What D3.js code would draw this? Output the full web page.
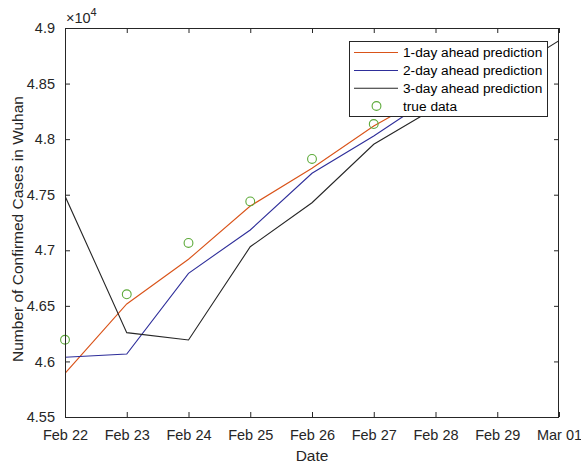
<!DOCTYPE html>
<html>
<head>
<meta charset="utf-8">
<script src="https://cdn.jsdelivr.net/npm/d3@7"></script>
<style>
  html, body { margin: 0; padding: 0; background: #fff; }
  svg { display: block; font-family: "Liberation Sans", Arial, sans-serif; }
</style>
</head>
<body>
<svg id="chart" width="581" height="464"></svg>
<script>
// ---- data (values in cases) ----
const dateLabels = ["Feb 22","Feb 23","Feb 24","Feb 25","Feb 26","Feb 27","Feb 28","Feb 29","Mar 01"];
const yTicks = [4.55, 4.6, 4.65, 4.7, 4.75, 4.8, 4.85, 4.9];
const pred1 = [45893, 46517, 46919, 47398, 47738, 48118, 48430, 48800];
const pred2 = [46037, 46067, 46793, 47183, 47693, 48028, 48397, 48750];
const pred3 = [47488, 46259, 46193, 47032, 47428, 47954, 48283, 48540, 48886];
const trueData = [46195, 46604, 47066, 47440, 47822, 48136, 48557];
const seriesNames = ["1-day ahead prediction", "2-day ahead prediction", "3-day ahead prediction", "true data"];

// ---- layout ----
const svg = d3.select("#chart");
const L = 65, R = 559, T = 28, B = 417;
const axisColor = "#262626";
const colors = ["#D95319", "#2E2E9A", "#262626", "#5DAA3A"];

const x = d3.scaleLinear().domain([0, dateLabels.length - 1]).range([L, R]);
const y = d3.scaleLinear().domain([45500, 49000]).range([B, T]);

svg.append("defs").append("clipPath").attr("id", "clip")
  .append("rect").attr("x", L).attr("y", T).attr("width", R - L).attr("height", B - T);

// lines
const line = d3.line().x((d, i) => x(i)).y(d => y(d));
const g = svg.append("g").attr("clip-path", "url(#clip)");
[pred1, pred2, pred3].forEach((s, k) => {
  g.append("path").datum(s).attr("d", line)
    .attr("fill", "none").attr("stroke", colors[k]).attr("stroke-width", 1.1);
});
svg.append("g").selectAll("circle.td").data(trueData).enter().append("circle")
  .attr("class", "td")
  .attr("cx", (d, i) => x(i)).attr("cy", d => y(d)).attr("r", 4.4)
  .attr("fill", "none").attr("stroke", colors[3]).attr("stroke-width", 1.1);

// axes (MATLAB style: ticks inward, box)
const fs = "14.5px";
const xAxisB = d3.axisBottom(x).tickValues(d3.range(dateLabels.length)).tickSize(-5).tickFormat(i => dateLabels[i]).tickPadding(13);
const xAxisT = d3.axisTop(x).tickValues(d3.range(dateLabels.length)).tickSize(-5).tickFormat("");
const yAxisL = d3.axisLeft(y).tickValues(yTicks.map(v => v * 1e4)).tickSize(-5).tickFormat(v => d3.format("")(+(v / 1e4).toFixed(2))).tickPadding(10);
const yAxisR = d3.axisRight(y).tickValues(yTicks.map(v => v * 1e4)).tickSize(-5).tickFormat("");

function style(sel) {
  sel.selectAll("path.domain").attr("stroke", axisColor);
  sel.selectAll(".tick line").attr("stroke", axisColor);
  sel.selectAll(".tick text").attr("fill", axisColor).style("font-size", fs).style("font-family", "Liberation Sans, Arial, sans-serif");
}
svg.append("g").attr("transform", `translate(0,${B})`).call(xAxisB).call(style)
  .call(s => s.select("path.domain").attr("d", `M${L},0.5H${R}`));
svg.append("g").attr("transform", `translate(0,${T})`).call(xAxisT).call(style)
  .call(s => s.select("path.domain").attr("d", `M${L},0.5H${R}`));
svg.append("g").attr("transform", `translate(${L},0)`).call(yAxisL).call(style)
  .call(s => s.select("path.domain").attr("d", `M0.5,${T}V${B}`));
svg.append("g").attr("transform", `translate(${R},0)`).call(yAxisR).call(style)
  .call(s => s.select("path.domain").attr("d", `M-0.5,${T}V${B}`));

// exponent label
const ex = svg.append("text").attr("x", 66).attr("y", 23).attr("fill", axisColor).style("font-size", fs);
ex.append("tspan").text("×10");
ex.append("tspan").attr("dy", -7).style("font-size", "11px").text("4");

// axis titles
svg.append("text").attr("x", (L + R) / 2).attr("y", 461).attr("text-anchor", "middle")
  .attr("fill", axisColor).style("font-size", "15.5px").text("Date");
svg.append("text").attr("transform", `translate(23,229) rotate(-90)`).attr("text-anchor", "middle")
  .attr("fill", axisColor).style("font-size", "15.5px").text("Number of Confirmed Cases in Wuhan");

// legend
const lg = svg.append("g");
const lx = 349, ly = 41, lw = 198, lh = 75;
lg.append("rect").attr("x", lx + 0.5).attr("y", ly + 0.5).attr("width", lw).attr("height", lh)
  .attr("fill", "#fff").attr("stroke", axisColor).attr("stroke-width", 1);
const rowY = [52.5, 70.5, 88.2, 106];
seriesNames.forEach((name, k) => {
  if (k < 3) {
    lg.append("line").attr("x1", 354).attr("x2", 398).attr("y1", rowY[k]).attr("y2", rowY[k])
      .attr("stroke", colors[k]).attr("stroke-width", 1.1);
  } else {
    lg.append("circle").attr("cx", 376.5).attr("cy", rowY[k]).attr("r", 4.4)
      .attr("fill", "none").attr("stroke", colors[k]).attr("stroke-width", 1.1);
  }
  lg.append("text").attr("x", 403).attr("y", rowY[k] + 4.8).attr("fill", "#000")
    .style("font-size", "13.7px").text(name);
});
</script>
</body>
</html>
